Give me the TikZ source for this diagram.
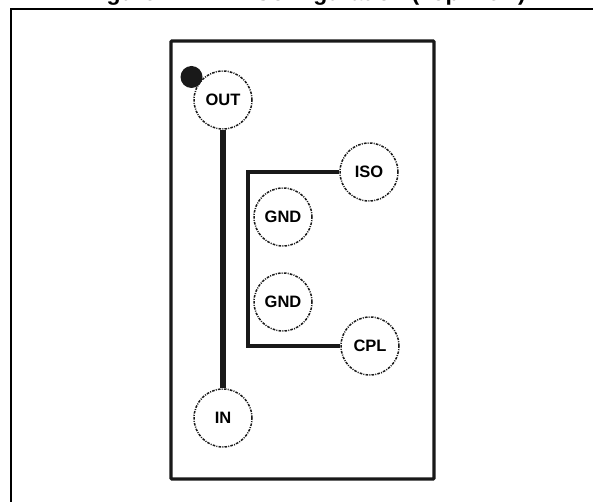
\documentclass[tikz,border=0pt]{standalone}
\usepackage{fontspec}
\setmainfont{Liberation Sans}
\usetikzlibrary{positioning}

\begin{document}
\begin{tikzpicture}[x=1pt, y=-1pt, font=\bfseries,
    pad/.style={circle, draw=black!90, line width=1.5pt, minimum size=58pt, inner sep=0pt,
        dash pattern=on 2.6pt off 1.2pt on 1pt off 1.2pt, font=\fontsize{16.5}{18}\bfseries},
    trace/.style={draw=black!90, line width=3.4pt, line join=miter},
    rail/.style={draw=black!90, line width=6pt}]
    \useasboundingbox (0,0) rectangle (593,502);

    % Frame and title
    \coordinate (ftr) at (593,9);
    \coordinate (ftl) at (11,9);
    \coordinate (fbl) at (11,502);
    \draw[line width=2.2pt] (ftr) -- (ftl) -- (fbl);
    \node[anchor=base, font=\fontsize{23}{25}\bfseries, inner sep=0pt] (title) at (306,0.5)
        {Figure 1-1: Pin Configuration (Top View)};

    % Package
    \node[draw=black!90, line width=3.4pt, rounded corners=1pt, minimum width=263pt,
        minimum height=438pt, inner sep=0pt] (pkg) at (302.5,260) {};
    \node[circle, fill=black!90, minimum size=22pt, inner sep=0pt] (dot) at (191.5,77) {};

    % Pads
    \node[pad] (out) at (223,100) {OUT};
    \node[pad] (iso) at (369,172) {ISO};
    \node[pad] (gnda) at (283,217) {GND};
    \node[pad] (gndb) at (283,302) {GND};
    \node[pad] (cpl) at (370,346) {CPL};
    \node[pad] (in) at (223,418) {IN};

    % Traces
    \coordinate (ctop) at (248,172);
    \coordinate (cbot) at (248,346);
    \draw[rail] (out) -- (in);
    \draw[trace] (iso) -- (ctop) -- (cbot) -- (cpl);
\end{tikzpicture}
\end{document}
